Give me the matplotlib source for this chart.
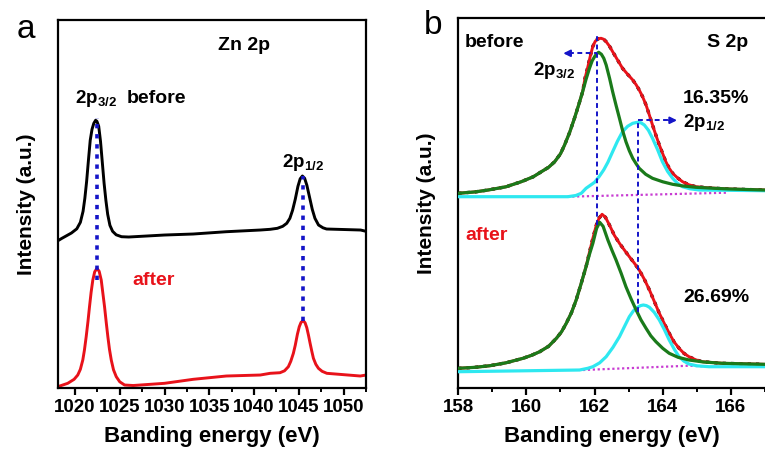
import matplotlib
matplotlib.use('Agg')
import matplotlib.pyplot as plt
from matplotlib.ticker import MultipleLocator

plt.rcParams['font.family'] = ['Liberation Sans', 'DejaVu Sans']
plt.rcParams['font.weight'] = 'bold'
plt.rcParams['mathtext.fontset'] = 'custom'
plt.rcParams['mathtext.rm'] = 'Liberation Sans:bold'
plt.rcParams['mathtext.bf'] = 'Liberation Sans:bold'
plt.rcParams['mathtext.default'] = 'rm'

# ---- panel a : Zn 2p ----
zn_before_x = [1018.04, 1018.5, 1019.0, 1019.6, 1020.2, 1020.6, 1020.9, 1021.1, 1021.3, 1021.5, 1021.7,
               1021.9, 1022.1, 1022.3, 1022.45, 1022.65, 1022.85, 1023.05, 1023.25, 1023.45,
               1023.65, 1023.9, 1024.2, 1024.6, 1025.2, 1026.0, 1030.0, 1033.2, 1036.9,
               1040.7, 1041.8, 1042.6, 1043.2, 1043.65, 1044.0, 1044.3, 1044.6, 1044.9, 1045.15,
               1045.4, 1045.65, 1045.9, 1046.2, 1046.5, 1046.8, 1047.2, 1047.7, 1048.1, 1051.9,
               1052.5]
zn_before_y = [147.3, 149.8, 152.3, 155.3, 159.5, 166.0, 177.0, 190.0, 207.0, 228.0, 248.0,
               259.0, 265.0, 268.0, 267.0, 262.0, 247.0, 226.0, 205.0, 188.0,
               174.0, 163.0, 157.0, 153.5, 151.6, 151.3, 153.3, 154.3, 156.6,
               158.3, 159.0, 160.0, 162.0, 165.0, 170.0, 178.0, 189.0, 202.0, 209.5,
               212.3, 210.0, 203.0, 191.0, 179.0, 170.0, 163.3, 160.5, 159.3, 158.3,
               157.0]
zn_after_x = [1018.07, 1019.19, 1019.9, 1020.31, 1020.6, 1020.87, 1021.05, 1021.25, 1021.45,
              1021.62, 1021.8, 1021.99, 1022.2, 1022.45, 1022.7, 1022.93, 1023.1, 1023.3,
              1023.5, 1023.67, 1023.85, 1024.05, 1024.3, 1024.61, 1025.0, 1025.54, 1026.5,
              1030.0, 1033.2, 1036.9, 1040.7, 1041.8, 1042.9, 1043.4, 1043.83, 1044.1, 1044.39,
              1044.6, 1044.84, 1045.05, 1045.25, 1045.5, 1045.7, 1045.89, 1046.08, 1046.26,
              1046.45, 1046.63, 1046.9, 1047.19, 1047.6, 1048.13, 1051.86, 1052.53]
zn_after_y = [1.6, 5.0, 9.0, 13.3, 19.0, 28.3, 38.0, 51.6, 67.0,
              81.6, 96.0, 108.3, 116.5, 120.0, 117.0, 108.3, 96.0, 81.6,
              65.0, 51.6, 39.0, 28.3, 18.5, 11.6, 6.5, 3.3, 2.8,
              5.0, 9.0, 12.3, 13.3, 15.0, 15.6, 17.5, 21.6, 27.0, 35.0,
              43.0, 54.0, 61.6, 66.0, 67.6, 65.5, 60.6, 53.0, 45.0,
              37.0, 30.0, 24.0, 20.0, 17.0, 15.0, 12.3, 13.3]
zn_peaks = [1022.41, 1045.44]
zn_peak_top = [270.0, 212.3]
zn_peak_bottom = [108.0, 67.6]

# ---- panel b : S 2p ----
s_before_a_x = [158.00, 158.5, 158.88, 159.4, 159.85, 160.2, 160.44, 160.65, 160.83, 161.0,
                161.12, 161.27, 161.41, 161.53, 161.65, 161.75, 161.85, 161.93, 162.00, 162.06,
                162.12, 162.2, 162.27, 162.34, 162.44, 162.53, 162.63, 162.73, 162.82, 162.92,
                163.02, 163.12, 163.22, 163.31, 163.5, 163.70, 164.0, 164.29, 164.6, 164.97,
                165.5, 165.94, 166.97]
s_before_a_y = [195.0, 196.4, 198.3, 201.5, 206.6, 211.5, 216.6, 221.0, 226.6, 234.5,
                243.3, 256.0, 270.0, 283.0, 296.6, 309.0, 320.0, 327.5, 331.6, 334.5,
                336.0, 334.0, 330.0, 323.3, 310.0, 296.6, 283.0, 270.0, 258.0, 246.6,
                237.5, 230.0, 224.5, 220.0, 214.0, 210.0, 206.5, 204.0, 202.3, 201.0,
                200.0, 199.3, 198.3]
s_before_env_x = [158.00, 158.5, 158.88, 159.4, 159.85, 160.2, 160.44, 160.65, 160.83, 161.0,
                  161.12, 161.27, 161.41, 161.53, 161.65, 161.72, 161.80, 161.88, 161.95, 162.02,
                  162.1, 162.19, 162.27, 162.34, 162.44, 162.53, 162.68, 162.82, 162.97, 163.12,
                  163.22, 163.31, 163.41, 163.51, 163.60, 163.70, 163.80, 163.90, 164.00, 164.09,
                  164.19, 164.29, 164.43, 164.58, 164.77, 164.97, 165.4, 165.94, 166.97]
s_before_env_y = [195.0, 196.4, 198.3, 201.5, 206.6, 211.5, 216.6, 221.0, 226.6, 234.5,
                  243.3, 256.0, 270.0, 283.0, 296.6, 310.0, 321.0, 333.0, 342.0, 347.0,
                  349.5, 350.0, 349.0, 346.6, 342.0, 336.6, 328.0, 320.0, 314.0, 308.3,
                  303.5, 298.3, 291.5, 283.3, 274.0, 263.3, 253.0, 243.3, 234.5, 226.6,
                  220.0, 215.0, 210.5, 206.6, 203.5, 201.6, 200.3, 199.3, 198.3]
s_before_b_x = [158.00, 161.22, 161.45, 161.61, 161.75, 162.00, 162.14, 162.27, 162.39, 162.53,
                162.67, 162.82, 162.97, 163.12, 163.26, 163.36, 163.46, 163.58, 163.70, 163.85,
                163.99, 164.14, 164.29, 164.43, 164.58, 164.8, 165.07, 166.97]
s_before_b_y = [191.6, 191.6, 192.8, 195.0, 200.0, 206.0, 212.0, 218.5, 226.0, 236.6,
                247.0, 256.6, 262.0, 265.0, 266.0, 265.5, 263.3, 258.0, 250.0, 238.5,
                226.6, 217.0, 210.0, 205.0, 201.6, 199.5, 198.3, 197.6]
s_before_bg_x = [161.2, 165.9]
s_before_bg_y = [191.6, 195.6]

s_after_a_x = [158.00, 158.5, 158.93, 159.4, 159.90, 160.15, 160.39, 160.65, 160.88, 161.03,
               161.17, 161.32, 161.46, 161.6, 161.75, 161.85, 161.95, 162.06, 162.15, 162.25,
               162.39, 162.51, 162.63, 162.78, 162.92, 163.07, 163.22, 163.36, 163.51, 163.65,
               163.80, 164.0, 164.19, 164.45, 164.77, 165.2, 165.75, 166.97]
s_after_a_y = [20.0, 21.0, 22.6, 25.5, 30.0, 33.0, 36.6, 42.0, 50.0, 56.5,
               65.0, 75.5, 88.3, 104.0, 121.6, 134.0, 145.0, 160.0, 166.0, 162.0,
               148.3, 138.0, 128.3, 115.0, 101.6, 89.5, 78.3, 68.5, 60.0, 52.5,
               46.6, 40.0, 35.0, 31.0, 28.3, 26.3, 25.0, 24.0]
s_after_env_x = [158.00, 158.5, 158.93, 159.4, 159.90, 160.15, 160.39, 160.65, 160.88, 161.03,
                 161.17, 161.32, 161.46, 161.6, 161.75, 161.85, 161.95, 162.05, 162.13, 162.22,
                 162.32, 162.44, 162.58, 162.73, 162.88, 163.02, 163.17, 163.31, 163.46, 163.61,
                 163.75, 163.90, 164.05, 164.19, 164.33, 164.48, 164.62, 164.77, 164.97, 165.16,
                 165.75, 166.97]
s_after_env_y = [20.0, 21.0, 22.6, 25.5, 30.0, 33.0, 36.6, 42.0, 50.0, 56.5,
                 65.0, 75.5, 88.3, 104.0, 121.6, 136.0, 150.0, 163.0, 170.0, 174.0,
                 171.0, 163.0, 153.0, 145.0, 138.0, 131.6, 125.0, 118.3, 109.0, 98.3,
                 87.0, 75.0, 64.5, 55.0, 46.5, 40.0, 35.0, 31.6, 28.5, 26.6,
                 25.0, 24.0]
s_after_b_x = [158.00, 161.56, 161.80, 161.95, 162.15, 162.34, 162.54, 162.73, 162.88, 163.02,
               163.14, 163.26, 163.35, 163.43, 163.52, 163.61, 163.75, 163.90, 164.05, 164.19,
               164.34, 164.48, 164.62, 164.77, 165.0, 165.36, 166.97]
s_after_b_y = [16.6, 18.3, 20.0, 21.6, 25.5, 31.6, 41.0, 51.6, 62.0, 71.6,
               77.5, 81.0, 82.7, 83.3, 82.7, 81.0, 76.0, 68.3, 58.5, 48.3,
               39.0, 31.6, 27.2, 24.3, 22.5, 21.6, 21.6]
s_after_bg_x = [161.66, 164.77, 165.2]
s_after_bg_y = [18.3, 22.6, 22.0]

blue = '#1414c8'
red = '#e8121a'
green = '#1a7a1a'
cyan = '#2ee8f0'
magenta = '#c83cd2'

fig = plt.figure(figsize=(7.65, 4.57), dpi=100)
axa = fig.add_axes([0.0758, 0.1503, 0.4026, 0.8059])
axb = fig.add_axes([0.599, 0.1503, 0.401, 0.8097])

# panel a
axa.plot(zn_before_x, zn_before_y, color='black', lw=2.1, zorder=2)
axa.plot(zn_after_x, zn_after_y, color=red, lw=2.1, zorder=2)
for xp, yt, yb in zip(zn_peaks, zn_peak_top, zn_peak_bottom):
    axa.plot([xp, xp], [yb, yt], color=blue, lw=2.6, ls=(0, (1.2, 1.6)), zorder=3)
axa.set_xlim(1018.1, 1052.5)
axa.set_ylim(0, 368.3)
axa.xaxis.set_major_locator(MultipleLocator(5))
axa.xaxis.set_minor_locator(MultipleLocator(2.5))
axa.text(1036, 343, 'Zn 2p', fontsize=14, fontweight='bold', va='center')
axa.text(1020.0, 290, '2p$_{3/2}$', fontsize=13.5, fontweight='bold', va='center')
axa.text(1025.8, 290, 'before', fontsize=14, fontweight='bold', va='center')
axa.text(1043.1, 226, '2p$_{1/2}$', fontsize=13.5, fontweight='bold', va='center')
axa.text(1026.4, 108, 'after', fontsize=14, fontweight='bold', color=red, va='center')

# panel b
for ex, ey, ax_, ay, bx, by, gx, gy in [
        (s_before_env_x, s_before_env_y, s_before_a_x, s_before_a_y,
         s_before_b_x, s_before_b_y, s_before_bg_x, s_before_bg_y),
        (s_after_env_x, s_after_env_y, s_after_a_x, s_after_a_y,
         s_after_b_x, s_after_b_y, s_after_bg_x, s_after_bg_y)]:
    axb.plot(ex, ey, color='black', lw=2.4, ls=(0, (1, 1.5)), zorder=1)
    axb.plot(ex, ey, color=red, lw=2.1, zorder=2)
    axb.plot(bx, by, color=cyan, lw=2.3, zorder=3)
    axb.plot(ax_, ay, color=green, lw=2.3, zorder=4)
    axb.plot(gx, gy, color=magenta, lw=1.6, ls=(0, (1, 1.2)), zorder=2)

dash = (0, (2.5, 1.8))
axb.plot([162.08, 162.08], [163, 355], color=blue, lw=1.4, ls=dash, zorder=5)
axb.plot([163.26, 163.26], [76.6, 268], color=blue, lw=1.4, ls=dash, zorder=5)
axb.plot([161.25, 162.08], [335, 335], color=blue, lw=1.4, ls=dash, zorder=5)
axb.plot([163.26, 164.25], [268, 268], color=blue, lw=1.4, ls=dash, zorder=5)
axb.annotate('', xy=(161.0, 335), xytext=(161.4, 335),
             arrowprops=dict(arrowstyle='-|>', color=blue, lw=1.4, mutation_scale=10))
axb.annotate('', xy=(164.5, 268), xytext=(164.1, 268),
             arrowprops=dict(arrowstyle='-|>', color=blue, lw=1.4, mutation_scale=10))

axb.set_xlim(158, 167)
axb.set_ylim(0, 370)
axb.xaxis.set_major_locator(MultipleLocator(2))
axb.xaxis.set_minor_locator(MultipleLocator(1))
axb.spines['right'].set_visible(False)
axb.text(158.2, 346, 'before', fontsize=14, fontweight='bold', va='center')
axb.text(165.3, 346, 'S 2p', fontsize=14, fontweight='bold', va='center')
axb.text(160.2, 318, '2p$_{3/2}$', fontsize=13.5, fontweight='bold', va='center')
axb.text(164.6, 290, '16.35%', fontsize=14, fontweight='bold', va='center')
axb.text(164.6, 266, '2p$_{1/2}$', fontsize=13.5, fontweight='bold', va='center')
axb.text(158.2, 153, 'after', fontsize=14, fontweight='bold', color=red, va='center')
axb.text(164.6, 91, '26.69%', fontsize=14, fontweight='bold', va='center')

for ax in (axa, axb):
    ax.set_yticks([])
    for sp in ax.spines.values():
        sp.set_linewidth(1.6)
    ax.tick_params(axis='x', which='major', direction='out', length=5, width=1.6,
                   labelsize=13.5, pad=3)
    ax.tick_params(axis='x', which='minor', direction='out', length=3, width=1.4)
    for lab in ax.get_xticklabels():
        lab.set_fontweight('bold')
    ax.set_xlabel('Banding energy (eV)', fontsize=16, fontweight='bold', labelpad=7)
    ax.set_ylabel('Intensity (a.u.)', fontsize=15, fontweight='bold', labelpad=16)

fig.text(26 / 765, 1 - 30 / 457, 'a', fontsize=24, fontweight='normal', ha='center', va='center')
fig.text(433 / 765, 1 - 25 / 457, 'b', fontsize=24, fontweight='normal', ha='center', va='center')

fig.savefig('out.png', dpi=100)
